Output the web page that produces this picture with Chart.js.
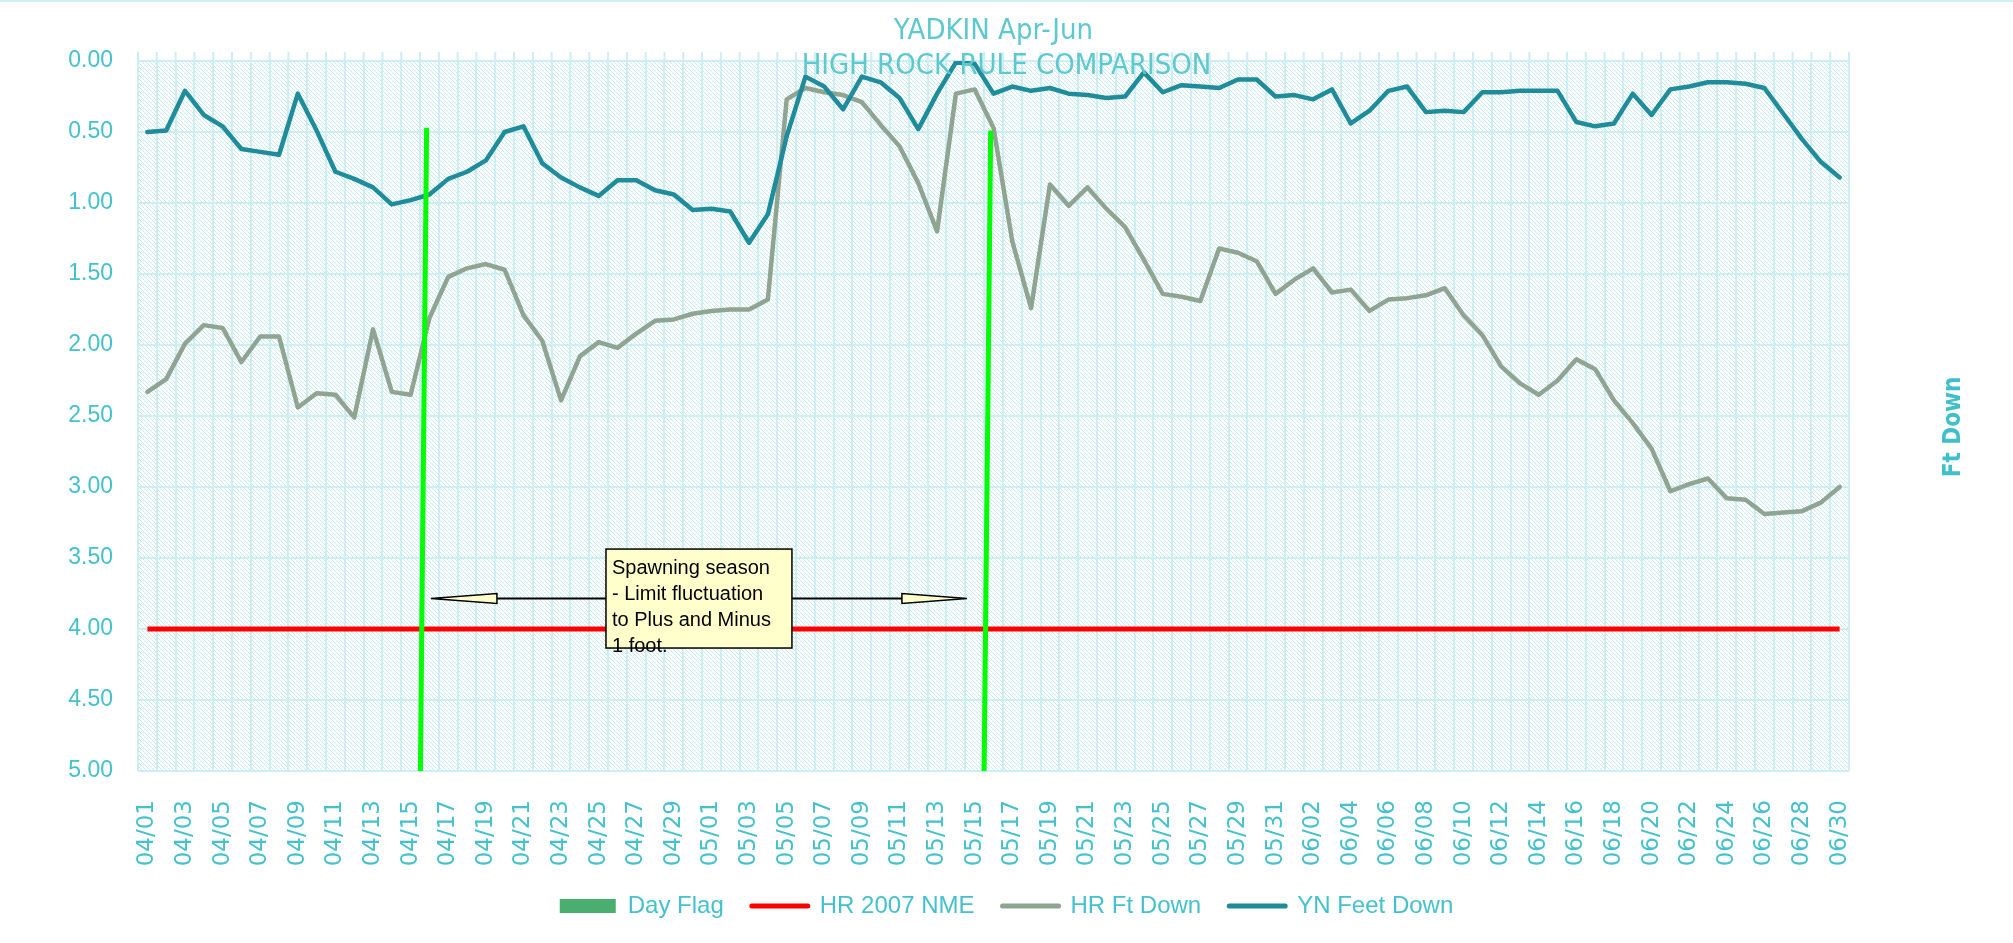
<!DOCTYPE html>
<html>
<head>
<meta charset="utf-8">
<script src="https://cdn.jsdelivr.net/npm/chart.js@4.4.1/dist/chart.umd.min.js"></script>
<style>
  html,body{margin:0;padding:0;background:#fff;}
  canvas{display:block;}
</style>
</head>
<body>
<canvas id="c" width="2013" height="943"></canvas>
<script>
// categories: one per day, Apr 1 - Jun 30
const days=['04/01','04/02','04/03','04/04','04/05','04/06','04/07','04/08','04/09','04/10','04/11','04/12','04/13','04/14','04/15','04/16','04/17','04/18','04/19','04/20','04/21','04/22','04/23','04/24','04/25','04/26','04/27','04/28','04/29','04/30',
'05/01','05/02','05/03','05/04','05/05','05/06','05/07','05/08','05/09','05/10','05/11','05/12','05/13','05/14','05/15','05/16','05/17','05/18','05/19','05/20','05/21','05/22','05/23','05/24','05/25','05/26','05/27','05/28','05/29','05/30','05/31',
'06/01','06/02','06/03','06/04','06/05','06/06','06/07','06/08','06/09','06/10','06/11','06/12','06/13','06/14','06/15','06/16','06/17','06/18','06/19','06/20','06/21','06/22','06/23','06/24','06/25','06/26','06/27','06/28','06/29','06/30'];

// series (ft down)
const dayFlag=[];
const hrNme=[4,4,4,4,4,4,4,4,4,4,4,4,4,4,4,4,4,4,4,4,4,4,4,4,4,4,4,4,4,4,
4,4,4,4,4,4,4,4,4,4,4,4,4,4,4,4,4,4,4,4,4,4,4,4,4,4,4,4,4,4,4,
4,4,4,4,4,4,4,4,4,4,4,4,4,4,4,4,4,4,4,4,4,4,4,4,4,4,4,4,4,4];
const hrFtDown=[2.33,2.24,1.99,1.86,1.88,2.12,1.94,1.94,2.44,2.34,2.35,2.51,1.89,2.33,2.35,1.81,1.52,1.46,1.43,1.47,1.79,1.97,2.39,2.08,1.98,2.02,1.92,1.83,1.82,1.78,
1.76,1.75,1.75,1.68,0.27,0.19,0.22,0.24,0.29,0.45,0.60,0.86,1.20,0.23,0.20,0.47,1.27,1.74,0.87,1.02,0.89,1.04,1.17,1.40,1.64,1.66,1.69,1.32,1.35,1.41,1.64,
1.54,1.46,1.63,1.61,1.76,1.68,1.67,1.65,1.60,1.79,1.93,2.15,2.27,2.35,2.25,2.10,2.17,2.39,2.55,2.73,3.03,2.98,2.94,3.08,3.09,3.19,3.18,3.17,3.11,3.00];
const ynFeetDown=[0.50,0.49,0.21,0.38,0.46,0.62,0.64,0.66,0.23,0.49,0.78,0.83,0.89,1.01,0.98,0.94,0.83,0.78,0.70,0.50,0.46,0.72,0.82,0.89,0.95,0.84,0.84,0.91,0.94,1.05,
1.04,1.06,1.28,1.08,0.53,0.11,0.18,0.34,0.11,0.15,0.26,0.48,0.23,0.01,0.02,0.23,0.18,0.21,0.19,0.23,0.24,0.26,0.25,0.08,0.22,0.17,0.18,0.19,0.13,0.13,0.25,
0.24,0.27,0.20,0.44,0.35,0.21,0.18,0.36,0.35,0.36,0.22,0.22,0.21,0.21,0.21,0.43,0.46,0.44,0.23,0.38,0.20,0.18,0.15,0.15,0.16,0.19,0.37,0.55,0.71,0.82];

// hand drawn spawning-season markers, in (day index, ft down)
const spawnStart=[{x:14.85,y:0.47},{x:14.52,y:5}];
const spawnEnd=[{x:44.85,y:0.49},{x:44.5,y:5}];

const yTicks=[0,0.5,1,1.5,2,2.5,3,3.5,4,4.5,5];
const titleLines=['YADKIN Apr-Jun','HIGH ROCK RULE COMPARISON'];
const noteLines=['Spawning season','- Limit fluctuation','to Plus and Minus','1 foot.'];

// callout box + arrows, in axis units
const note={x0:24.39,x1:34.28,y0:3.437,y1:4.134,arrowY:3.785,leftTip:15.08,leftBase:18.59,rightBase:40.13,rightTip:43.59};

const teal='#45c1cc', grid='#cdeef2';
Chart.defaults.font.family='"Liberation Sans", Arial, sans-serif';

const pat=document.createElement('canvas'); pat.width=4; pat.height=4;
const pc=pat.getContext('2d');
pc.fillStyle='#ffffff'; pc.fillRect(0,0,4,4);
pc.fillStyle='#c6ebf0'; for(let k=0;k<4;k++) pc.fillRect(k,k,1,1);

const bg={
  id:'bg',
  beforeDraw(chart){
    const {ctx,chartArea:a,scales}=chart;
    ctx.save();
    ctx.fillStyle='#fff'; ctx.fillRect(0,0,chart.width,chart.height);
    ctx.fillStyle=grid; ctx.fillRect(0,0,chart.width,2);
    ctx.fillStyle=ctx.createPattern(pat,'repeat');
    ctx.fillRect(a.left,a.top,a.right-a.left,a.bottom-a.top);
    // category lines poke a little above the plot
    ctx.strokeStyle=grid; ctx.lineWidth=2;
    for(let i=0;i<=days.length;i++){
      const px=scales.x.getPixelForValue(i-0.5);
      ctx.beginPath(); ctx.moveTo(px,a.top-9); ctx.lineTo(px,a.top); ctx.stroke();
    }
    ctx.restore();
  }
};

function arrow(ctx,xLine,xBase,xTip,y){
  ctx.beginPath(); ctx.moveTo(xLine,y); ctx.lineTo(xBase,y);
  ctx.lineWidth=2; ctx.strokeStyle='#000'; ctx.stroke();
  ctx.beginPath(); ctx.moveTo(xTip,y); ctx.lineTo(xBase,y-5); ctx.lineTo(xBase,y+5); ctx.closePath();
  ctx.fillStyle='#ffffcc'; ctx.fill(); ctx.lineWidth=1.5; ctx.stroke();
}

const overlay={
  id:'overlay',
  afterDraw(chart){
    const {ctx,scales}=chart;
    const X=v=>scales.xl.getPixelForValue(v), Y=v=>scales.y.getPixelForValue(v);
    ctx.save();
    // callout
    const bx=X(note.x0), by=Y(note.y0), bw=X(note.x1)-bx, bh=Y(note.y1)-by, ay=Y(note.arrowY);
    arrow(ctx,bx,X(note.leftBase),X(note.leftTip),ay);
    arrow(ctx,bx+bw,X(note.rightBase),X(note.rightTip),ay);
    ctx.fillStyle='#ffffcc'; ctx.fillRect(bx,by,bw,bh);
    ctx.lineWidth=1.5; ctx.strokeStyle='#000'; ctx.strokeRect(bx,by,bw,bh);
    ctx.fillStyle='#000'; ctx.font='20px "Liberation Sans", Arial, sans-serif';
    ctx.textAlign='left'; ctx.textBaseline='alphabetic';
    noteLines.forEach((t,i)=>ctx.fillText(t,bx+6,by+25+i*26));
    // title
    ctx.fillStyle='#5ec8cf'; ctx.textAlign='center';
    ctx.font='29px "Liberation Sans Narrow", "DejaVu Sans Condensed", sans-serif';
    ctx.fillText(titleLines[0],chart.width/2-13,39);
    ctx.fillText(titleLines[1],chart.width/2,74);
    // right axis title
    ctx.translate(1954,427); ctx.rotate(-Math.PI/2);
    ctx.fillStyle='#3fbfca'; ctx.textBaseline='middle';
    ctx.font='bold 24px "Liberation Sans Narrow", "DejaVu Sans Condensed", sans-serif';
    ctx.fillText('Ft Down',0,0);
    ctx.restore();
  }
};

const line=(label,data,color,width,order)=>({label,data,type:'line',xAxisID:'x',yAxisID:'y',borderColor:color,backgroundColor:color,
  borderWidth:width,pointRadius:0,borderJoinStyle:'round',borderCapStyle:'round',order});

new Chart(document.getElementById('c'),{
  type:'line',
  data:{
    labels:days,
    datasets:[
      {label:'Day Flag',type:'bar',data:dayFlag,xAxisID:'x',yAxisID:'y',backgroundColor:'#4aaf6e',borderColor:'#4aaf6e',order:4},
      Object.assign(line('HR 2007 NME',hrNme,'#ff0000',5,3),{borderCapStyle:'butt'}),
      line('HR Ft Down',hrFtDown,'#8fa592',4.5,2),
      line('YN Feet Down',ynFeetDown,'#1f8c9b',4.5,1),
      {label:'spawn start',type:'line',data:spawnStart,xAxisID:'xl',yAxisID:'y',borderColor:'#00ff00',borderWidth:5,pointRadius:0,order:0,noLegend:true},
      {label:'spawn end',type:'line',data:spawnEnd,xAxisID:'xl',yAxisID:'y',borderColor:'#00ff00',borderWidth:5,pointRadius:0,order:0,noLegend:true}
    ]
  },
  options:{
    responsive:false, animation:false, devicePixelRatio:1,
    layout:{padding:{top:61,left:0,right:0,bottom:15}},
    plugins:{
      tooltip:{enabled:false},
      legend:{
        position:'bottom',
        labels:{
          color:teal, font:{size:24}, padding:28, usePointStyle:true, pointStyleWidth:56, boxHeight:14,
          generateLabels(chart){
            return chart.data.datasets.map((d,i)=>({
              text:d.label, datasetIndex:i, hidden:false, fontColor:teal,
              fillStyle:d.backgroundColor, strokeStyle:d.borderColor,
              lineWidth:d.type==='bar'?0:5, lineCap:'round',
              pointStyle:d.type==='bar'?'rect':'line'
            })).filter(l=>!chart.data.datasets[l.datasetIndex].noLegend);
          }
        }
      }
    },
    scales:{
      x:{
        type:'category', offset:true,
        grid:{offset:true,color:grid,lineWidth:2,drawTicks:false},
        border:{display:false},
        ticks:{autoSkip:false,minRotation:90,maxRotation:90,padding:29,color:teal,
          font:{family:'"DejaVu Sans", sans-serif',size:23},
          callback(v,i){ return i%2===0 ? this.getLabelForValue(v) : ''; }},
        afterFit(s){ s.height=95; }
      },
      xl:{type:'linear',display:false,min:-0.5,max:90.5},
      y:{
        reverse:true, min:0, max:5,
        afterBuildTicks(s){ s.ticks=yTicks.map(v=>({value:v})); },
        ticks:{padding:25,color:teal,font:{size:23},callback:v=>Number(v).toFixed(2)},
        grid:{color:grid,lineWidth:2,drawTicks:false},
        border:{display:false},
        afterFit(s){ s.width=138; }
      },
      y2:{
        position:'right', display:true,
        grid:{display:false}, ticks:{display:false}, border:{display:false},
        afterFit(s){ s.width=164; }
      }
    }
  },
  plugins:[bg,overlay]
});
</script>
</body>
</html>
